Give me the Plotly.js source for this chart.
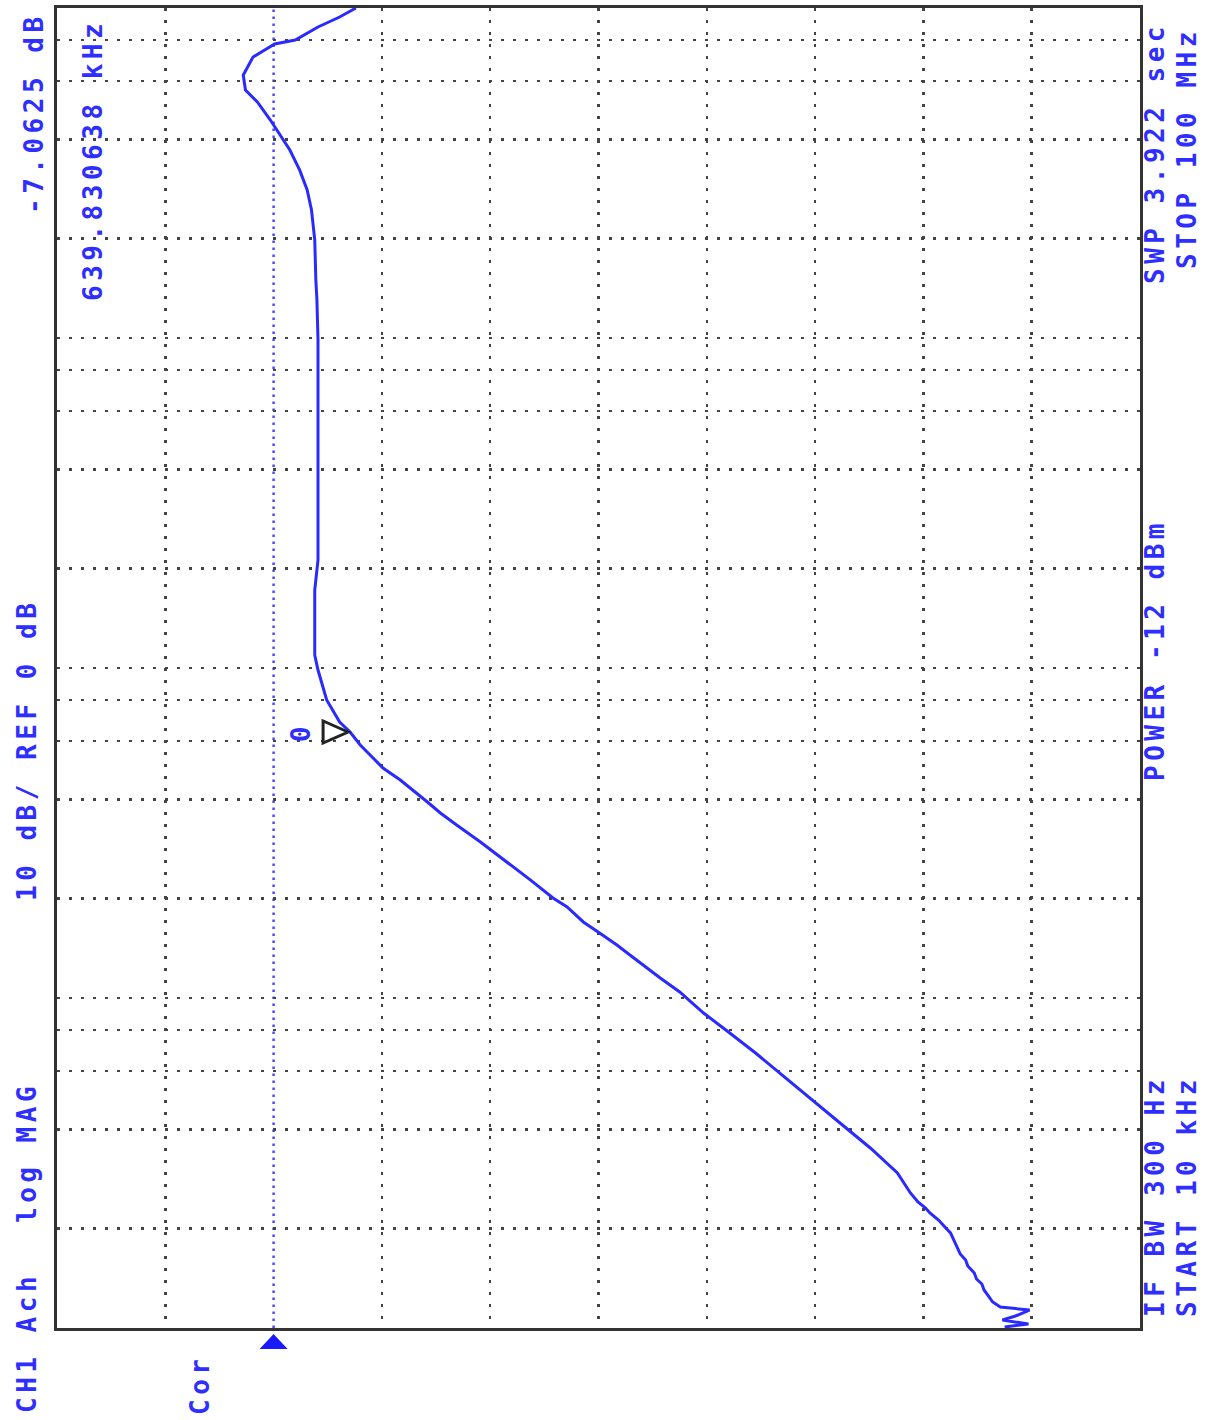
<!DOCTYPE html>
<html><head><meta charset="utf-8">
<script src="https://cdn.plot.ly/plotly-3.0.1.min.js"></script>
<style>
html,body{margin:0;padding:0;background:#fff;}
#chart{width:1212px;height:1420px;}
.annotation-text{letter-spacing:4.5px;font-weight:bold;}
</style></head><body><div id="chart"></div>
<script>
const freqHz = [10070,10283,10573,10874,11337,11576,11988,12502,13037,13594,14078,14678,15414,16074,16758,17600,18479,19408,20379,21250,22314,23105,24090,25660,29490,35120,41810,49770,59250,68130,78890,90050,104280,115000,134990,144740,157400,169980,188700,200900,227900,244300,271300,297000,334400,363600,392600,432900,457700,497700,584500,639830,686100,799900,986100,1095000,1398000,1723000,2125000,4577000,9861000,13040000,14990000,19820000,24430000,28090000,32300000,37130000,42690000,45770000,51920000,56420000,62660000,71050000,77800000,79990000,87600000,93910000,100000000];
const magDb = [-67.5,-69.7,-67.3,-68.5,-69.8,-67.1,-66.4,-66.0,-65.6,-65.4,-64.9,-64.7,-64.1,-63.9,-63.4,-63.1,-62.8,-62.5,-61.9,-61.4,-60.6,-60.2,-59.5,-58.8,-57.6,-55.1,-52.3,-49.5,-46.8,-44.5,-42.0,-39.7,-37.5,-35.7,-32.9,-31.7,-30.1,-28.6,-27.1,-25.8,-23.7,-22.5,-20.6,-19.1,-16.9,-15.4,-14.2,-12.6,-11.7,-10.1,-8.0,-7.06,-6.1,-4.9,-4.1,-3.8,-3.8,-3.8,-4.1,-4.1,-4.1,-4.0,-3.9,-3.8,-3.5,-3.1,-2.4,-1.5,-0.3,0.3,1.5,2.6,2.8,1.9,-0.1,-2.0,-4.1,-6.1,-7.6];
const markerFreqHz = 639830.638;
const markerMagDb = -7.0625;
const refDb = 0;
const dbPerDiv = 10;
const dbTop = 20, dbBottom = -80;
const startHz = 1e4, stopHz = 1e8;
const freqGridMultipliers = [1,2,4,6,8];
const markerLabel = "0";
const screenTexts = ["-7.0625 dB","639.830638 kHz","CH1 Ach","log MAG","10 dB/ REF 0 dB","Cor","SWP 3.922 sec","STOP 100 MHz","POWER -12 dBm","IF BW 300 Hz","START 10 kHz"];
// ---- layout constants ----
const W=1212,H=1420,L=57,R=72,T=8,B=92;
const PW=W-L-R, PH=H-T-B;
const textPos = [[34,113],[93,160],[27,1343],[27,1153],[27,750],[200,1385],[1155,153],[1187,148],[1155,650],[1155,1196],[1187,1196]];
const blue = '#2e2eff';

const dbTicks=[];
for(let v=dbBottom+dbPerDiv; v<dbTop; v+=dbPerDiv){ if(v!==refDb) dbTicks.push(v); }
const fTicks=[];
const d0=Math.log10(startHz), d1=Math.log10(stopHz);
for(let d=d0; d<d1; d++){ freqGridMultipliers.forEach(m=>{ const f=m*Math.pow(10,d); if(f>startHz) fTicks.push(f); }); }

const axCommon = {showticklabels:false, ticks:'', showgrid:true, gridcolor:'#444', gridwidth:2.5, griddash:'3px,9px',
  zeroline:false, showline:true, mirror:true, linecolor:'#333', linewidth:3, fixedrange:true};

const fnt = {family:'DejaVu Sans Mono', size:26, color:blue, weight:'bold'};
const annotations = screenTexts.map((t,i)=>({
  text:t, xref:'paper', yref:'paper',
  x:(textPos[i][0]-L)/PW, y:(H-B-textPos[i][1])/PH,
  xanchor:'center', yanchor:'middle', textangle:-90, showarrow:false, font:fnt
}));
annotations.push({text:markerLabel, xref:'x', yref:'paper', x:markerMagDb,
  y:(Math.log10(markerFreqHz)-d0)/(d1-d0), xshift:-49, xanchor:'center', yanchor:'middle', textangle:-90, showarrow:false,
  font:fnt});

const shapes = [
  {type:'line', xref:'x', yref:'paper', x0:refDb, x1:refDb, y0:0, y1:1, layer:'below', line:{color:'#4a4aff', width:2.5, dash:'2.5px,4.5px'}},
  {type:'path', xref:'x', yref:'paper', xsizemode:'pixel', ysizemode:'pixel', xanchor:refDb, yanchor:0,
    path:'M-14,-21 L14,-21 L0,-6 Z', fillcolor:'#1a1aff', line:{width:0}},
  {type:'path', xref:'x', yref:'paper', xsizemode:'pixel', ysizemode:'pixel', xanchor:markerMagDb,
    yanchor:(Math.log10(markerFreqHz)-d0)/(d1-d0),
    path:'M-2,0 L-27,11 L-27,-11 Z', fillcolor:'rgba(0,0,0,0)', line:{color:'#222', width:3}}
];

Plotly.newPlot('chart', [{
  x:magDb, y:freqHz, type:'scatter', mode:'lines', line:{color:'#2a2aff', width:3}, hoverinfo:'skip'
}], {
  width:W, height:H, margin:{l:L,r:R,t:T,b:B}, paper_bgcolor:'#fff', plot_bgcolor:'#fff', showlegend:false,
  xaxis:Object.assign({range:[dbTop,dbBottom], tickvals:dbTicks}, axCommon),
  yaxis:Object.assign({type:'log', range:[d0,d1], tickvals:fTicks}, axCommon),
  annotations, shapes
}, {displayModeBar:false, staticPlot:true});
</script></body></html>
